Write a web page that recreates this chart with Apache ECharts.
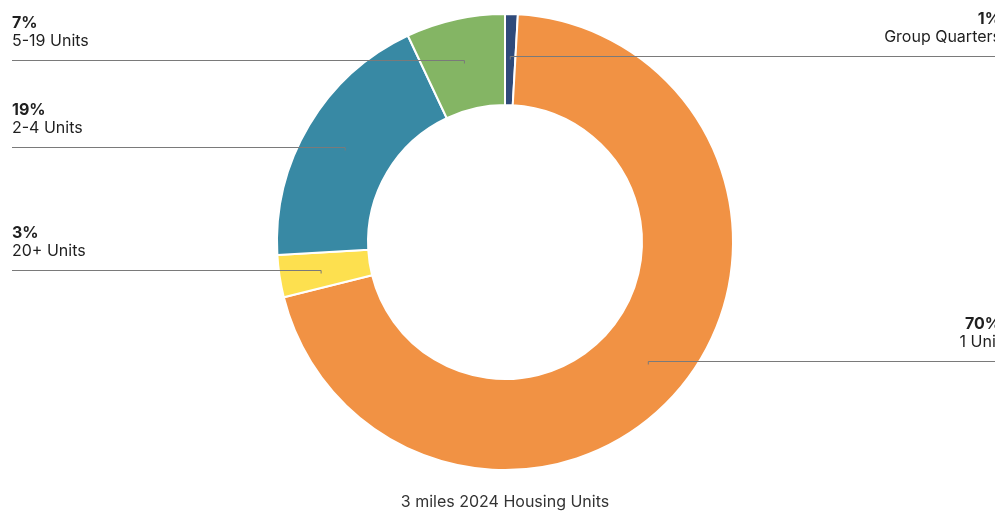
<!DOCTYPE html>
<html>
<head>
<meta charset="utf-8">
<style>
  html, body { margin: 0; padding: 0; background: #ffffff; }
  #chart { width: 995px; height: 513px; }
</style>
<script src="https://cdn.jsdelivr.net/npm/echarts@6/dist/echarts.min.js"></script>
</head>
<body>
<div id="chart"></div>
<script>
// Data
const categories = ['Group Quarters', '1 Unit', '20+ Units', '2-4 Units', '5-19 Units'];
const values = [0.9, 70.2, 3.0, 18.9, 7.0];
const colors = ['#2f4a7a', '#f19244', '#fde04f', '#3889a4', '#84b564'];
const titleText = '3 miles 2024 Housing Units';

// Layout
const CX = 505, CY = 242;
const LEFT_X = 12, RIGHT_TEXT_X = 1001, RIGHT_LINE_X = 995;

const pieData = categories.map((c, i) => ({ name: c, value: values[i] }));

const chart = echarts.init(document.getElementById('chart'), null, { renderer: 'canvas' });
chart.setOption({
  backgroundColor: '#ffffff',
  animation: false,
  color: colors,
  title: {
    text: titleText,
    left: 500,
    textAlign: 'center',
    top: 488,
    textStyle: { fontFamily: 'Inter', fontSize: 16, fontWeight: 'normal', color: '#333333', lineHeight: 18 }
  },
  series: [
    {
      type: 'pie',
      z: 2,
      center: [CX, CY],
      radius: [137, 228],
      startAngle: 90,
      clockwise: true,
      silent: true,
      data: pieData,
      itemStyle: { borderColor: '#ffffff', borderWidth: 2 },
      label: { show: false },
      labelLine: { show: false }
    },
    {
      type: 'pie',
      z: 3,
      center: [CX, CY],
      radius: [0, 186],
      startAngle: 90,
      clockwise: true,
      silent: true,
      avoidLabelOverlap: false,
      data: pieData,
      itemStyle: { color: 'rgba(0,0,0,0)', borderWidth: 0 },
      label: {
        show: true,
        position: 'outside',
        fontFamily: 'Inter',
        formatter: function (p) {
          return '{p|' + Math.round(p.percent) + '%}\n{n|' + p.name + '}';
        },
        rich: {
          p: { fontFamily: 'Inter', fontSize: 16, fontWeight: 'bold', color: '#1f1f1f', lineHeight: 18 },
          n: { fontFamily: 'Inter', fontSize: 16, fontWeight: 'normal', color: '#1f1f1f', lineHeight: 18 }
        }
      },
      labelLine: {
        show: true,
        length: 0,
        length2: 0,
        lineStyle: { color: '#7a7a7a', width: 1 }
      },
      labelLayout: function (p) {
        const pts = p.labelLinePoints;
        if (!pts) return {};
        const x0 = pts[0][0], y0 = Math.round(pts[0][1]) + 0.5;
        const left = x0 < CX;
        const ex = left ? LEFT_X : RIGHT_LINE_X;
        return {
          x: left ? LEFT_X : RIGHT_TEXT_X,
          y: y0 - 10,
          align: left ? 'left' : 'right',
          verticalAlign: 'bottom',
          labelLinePoints: [[x0, y0 + 3], [x0, y0], [ex, y0]]
        };
      }
    }
  ]
});
</script>
</body>
</html>
